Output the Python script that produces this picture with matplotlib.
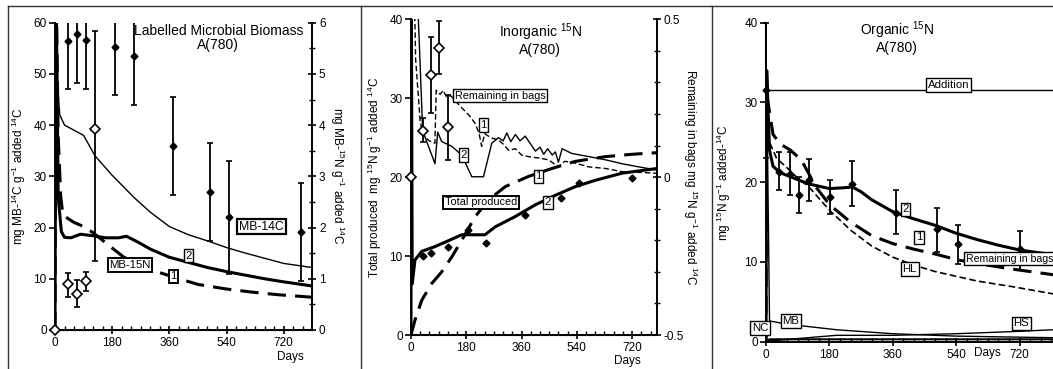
import numpy as np
import matplotlib
matplotlib.use("Agg")
import matplotlib.pyplot as plt
from matplotlib.lines import Line2D
from matplotlib.ticker import MultipleLocator

plt.rcParams['font.family'] = ['Liberation Sans', 'DejaVu Sans']
plt.rcParams['font.size'] = 8.5
plt.rcParams['mathtext.default'] = 'regular'

# ---------- panel 1: labelled microbial biomass ----------
mb14c_days = [0, 3, 8, 15, 30, 60, 90, 126, 180, 250, 300, 360, 420, 480, 540, 600, 660, 720, 809]
mb14c_line = [0, 75, 48, 42, 40, 39, 38, 34.0, 30.2, 25.8, 23, 20.2, 18.6, 17.4, 16.1, 15, 14, 13, 12.2]

mb15n_2_days = [0, 3, 10, 20, 30, 50, 80, 120, 160, 200, 225, 260, 300, 360, 420, 480, 540, 600, 660, 720, 809]
mb15n_2 = [0, 7, 2.6, 1.92, 1.81, 1.8, 1.87, 1.84, 1.8, 1.8, 1.83, 1.72, 1.58, 1.42, 1.32, 1.22, 1.14, 1.07, 1.0, 0.94, 0.86]
mb15n_1_days = [0, 3, 10, 18, 25, 40, 60, 90, 120, 150, 180, 215, 260, 320, 380, 450, 540, 620, 700, 809]
mb15n_1 = [0, 7, 3.8, 2.6, 2.25, 2.18, 2.1, 2.02, 1.9, 1.75, 1.6, 1.43, 1.28, 1.14, 1.02, 0.89, 0.8, 0.74, 0.69, 0.64]

mb14c_obs_days = [42, 70, 98, 189, 249, 370, 489, 549, 773]
mb14c_obs = [56.5, 57.8, 56.7, 55.2, 53.5, 36.0, 27.0, 22.0, 19.2]
mb14c_obs_lo = [47.0, 48.2, 47.0, 45.8, 44.0, 26.3, 17.3, 11.0, 9.5]
mb14c_obs_hi = [66.0, 67.4, 66.4, 64.6, 63.0, 45.4, 36.5, 33.0, 28.7]

mb15n_obs_days = [0, 42, 70, 98, 126]
mb15n_obs = [0.0, 0.90, 0.71, 0.95, 3.93]
mb15n_obs_lo = [0.0, 0.65, 0.45, 0.76, 1.35]
mb15n_obs_hi = [0.0, 1.12, 0.98, 1.13, 5.83]

# ---------- panel 2: inorganic 15N ----------
total2_days = [0, 1, 4, 13, 35, 78, 122, 165, 241, 274, 339, 405, 470, 535, 600, 687, 801]
total2 = [0, 45, 6.5, 9.5, 10.6, 11.2, 11.95, 12.7, 12.7, 13.7, 15, 16.5, 17.7, 18.8, 19.6, 20.5, 21.1]
total1_days = [0, 13, 35, 67, 100, 133, 165, 209, 252, 307, 383, 459, 535, 633, 720, 801]
total1 = [0, 1.9, 4.4, 6.5, 8.0, 9.9, 12.0, 15.0, 17.1, 18.8, 20.1, 21.1, 22.0, 22.6, 22.9, 23.1]

total_obs_days = [40, 65, 122, 184, 245, 370, 488, 548, 718]
total_obs = [10.0, 10.35, 11.2, 13.3, 11.6, 15.2, 17.3, 19.3, 19.85]

rem2_days = [0, 2, 24, 38, 78, 87, 100, 133, 165, 198, 236, 263, 285, 300, 312, 325, 340, 355, 372,
             405, 420, 432, 445, 460, 470, 480, 492, 524, 579, 633, 687, 742, 801]
rem2 = [0, 1.0, 0.5, 0.1475, 0.0425, 0.1425, 0.1125, 0.0975, 0.07, 0.00125, 0.00125, 0.1075, 0.125,
        0.115, 0.14, 0.1125, 0.135, 0.115, 0.13, 0.0825, 0.095, 0.0725, 0.09, 0.07, 0.08, 0.0475,
        0.09, 0.075, 0.065, 0.055, 0.0425, 0.0325, 0.0225]
rem1_days = [0, 3, 15, 30, 40, 60, 78, 82, 95, 105, 115, 130, 160, 190, 209, 222, 230, 240, 260, 285,
             300, 318, 340, 360, 383, 420, 448, 480, 500, 524, 579, 633, 687, 801]
rem1 = [0, 1.0, 0.375, 0.175, 0.13, 0.115, 0.1075, 0.275, 0.2625, 0.275, 0.255, 0.2575, 0.225, 0.195,
        0.17, 0.1375, 0.0975, 0.1375, 0.125, 0.1175, 0.105, 0.085, 0.09, 0.07, 0.065, 0.06, 0.055,
        0.0325, 0.05, 0.0475, 0.0325, 0.0275, 0.0175, 0.0125]

rem_obs_days = [0, 38, 65, 92, 122]
rem_obs = [0.0, 0.145, 0.3225, 0.41, 0.1575]
rem_obs_lo = [0.0, 0.11, 0.2025, 0.3275, 0.055]
rem_obs_hi = [0.0, 0.186, 0.4425, 0.495, 0.26]

# ---------- panel 3: organic 15N ----------
addition = 31.5
org2_days = [0, 2, 10, 20, 40, 80, 120, 180, 220, 245, 270, 300, 360, 420, 480, 540, 600, 660, 720, 815]
org2 = [0, 34, 24, 22, 21.2, 20.5, 19.8, 19.2, 19.3, 19.4, 18.8, 17.8, 16.3, 15.4, 14.6, 13.6, 12.8, 12.1, 11.5, 10.9]
org1_days = [0, 2, 20, 40, 70, 100, 120, 140, 180, 240, 300, 360, 420, 480, 540, 600, 700, 815]
org1 = [0, 31, 26, 24.8, 24, 22.8, 21.2, 19.5, 17.2, 15, 13.3, 12.3, 11.6, 11, 10.3, 9.8, 9.1, 8.4]
hl_days = [0, 2, 10, 30, 60, 90, 120, 180, 240, 300, 360, 420, 480, 540, 600, 700, 815]
hl = [0, 30, 25, 23, 21.8, 20.5, 19.5, 16.5, 14, 12, 10.6, 9.6, 8.8, 8.2, 7.6, 6.9, 6.0]
mb_days = [0, 2, 10, 60, 200, 360, 540, 815]
mb = [0, 33, 2.6, 2.2, 1.5, 1.0, 0.7, 0.5]
hs_days = [0, 10, 200, 360, 540, 720, 815]
hs = [0, 0.1, 0.8, 0.8, 1.0, 1.3, 1.5]
nc_days = [0, 10, 815]
nc = [0, 0.3, 0.3]

org_obs_days = [0, 38, 68, 93, 122, 182, 244, 369, 486, 546, 720]
org_obs = [31.5, 21.3, 21.0, 18.4, 20.3, 18.1, 19.8, 16.2, 14.1, 12.2, 11.6]
org_obs_lo = [23.0, 19.0, 18.4, 16.2, 17.7, 16.0, 17.0, 13.5, 11.3, 9.7, 9.0]
org_obs_hi = [40.0, 23.8, 23.8, 20.6, 22.9, 20.3, 22.7, 19.0, 16.8, 14.6, 13.9]

W, H = 1053, 369
fig = plt.figure(figsize=(W / 100, H / 100), dpi=100)


def px_axes(left, right, top, bottom):
    return fig.add_axes([left / W, (H - bottom) / H, (right - left) / W, (bottom - top) / H])


def style_axes(ax, right=False):
    ax.spines['top'].set_visible(False)
    ax.spines['right'].set_visible(right)
    for s in ax.spines.values():
        s.set_linewidth(1.4)
    ax.xaxis.set_major_locator(MultipleLocator(180))
    ax.xaxis.set_minor_locator(MultipleLocator(30))
    ax.tick_params(axis='x', which='major', direction='inout', length=6, width=1.2, pad=2)
    ax.tick_params(axis='x', which='minor', direction='in', length=3, width=1)
    ax.tick_params(axis='y', which='major', direction='out', length=4, width=1.2, pad=2)
    ax.patch.set_alpha(0)


def box(ax, x, y, s, ha='center', lw=1.0, size=8.2):
    ax.text(x, y, s, fontsize=size, ha=ha, va='center', zorder=10,
            bbox=dict(boxstyle='square,pad=0.15', fc='white', ec='black', lw=lw))


def errs(vals, lo, hi):
    v = np.array(vals)
    return [v - np.array(lo), np.array(hi) - v]


thick_dash = (0, (6, 3))
thin_dash = (0, (4, 2))

# ---- panel 1
ax1 = px_axes(55, 312, 22.7, 330)
style_axes(ax1)
ax1.set_xlim(0, 809)
ax1.set_ylim(0, 60)
ax1.yaxis.set_major_locator(MultipleLocator(10))
ax1.plot(mb14c_days, mb14c_line, color='black', lw=1.0)
ax1.errorbar(mb14c_obs_days, mb14c_obs, yerr=errs(mb14c_obs, mb14c_obs_lo, mb14c_obs_hi),
             fmt='D', ms=3.5, color='black', ecolor='black', elinewidth=1.3, capsize=2.5, capthick=1.2)
ax1.set_ylabel('mg MB-$^{14}$C g$^{-1}$ added $^{14}$C', labelpad=4)
ax1.text(740, -5.3, 'Days', ha='center', va='center')

ax1r = ax1.twinx()
ax1r.set_ylim(0, 6)
ax1r.spines['top'].set_visible(False)
ax1r.spines['left'].set_visible(False)
ax1r.spines['right'].set_linewidth(1.4)
ax1r.yaxis.set_major_locator(MultipleLocator(1))
ax1r.yaxis.set_minor_locator(MultipleLocator(0.5))
ax1r.tick_params(axis='y', which='major', direction='inout', length=6, width=1.2, pad=2)
ax1r.tick_params(axis='y', which='minor', direction='inout', length=4, width=1)
ax1r.plot(mb15n_2_days, mb15n_2, color='black', lw=2.2)
ax1r.plot(mb15n_1_days, mb15n_1, color='black', lw=2.2, linestyle=thick_dash)
ax1r.errorbar(mb15n_obs_days, mb15n_obs, yerr=errs(mb15n_obs, mb15n_obs_lo, mb15n_obs_hi),
              fmt='D', ms=5, mfc='white', mec='black', mew=1.2, ecolor='black',
              elinewidth=1.3, capsize=2.5, capthick=1.2, clip_on=False, zorder=5)
ax1r.set_ylabel('mg MB-$^{15}$N g$^{-1}$ added $^{14}$C', rotation=270, labelpad=15)
ax1r.text(514, 5.97, 'Labelled Microbial Biomass\nA(780)', ha='center', va='top',
          fontsize=10, linespacing=1.0)
box(ax1r, 650, 2.02, 'MB-14C', lw=1.6, size=8.8)
box(ax1r, 420, 1.45, '2')
box(ax1r, 236, 1.27, 'MB-15N', lw=1.4)
box(ax1r, 373, 1.05, '1', lw=1.4)

# ---- panel 2
ax2 = px_axes(411, 657, 19.3, 335)
style_axes(ax2)
ax2.set_xlim(0, 801)
ax2.set_ylim(0, 40)
ax2.yaxis.set_major_locator(MultipleLocator(10))
ax2.plot(total2_days, total2, color='black', lw=2.2)
ax2.plot(total1_days, total1, color='black', lw=2.2, linestyle=thick_dash)
ax2.plot(total_obs_days, total_obs, 'D', ms=3.5, color='black')
ax2.set_ylabel('Total produced  mg $^{15}$N g$^{-1}$ added $^{14}$C', labelpad=4)
ax2.text(704, -3.35, 'Days', ha='center', va='center')
ax2.text(421, 39.7, 'Inorganic $^{15}$N\nA(780)', ha='center', va='top', fontsize=10, linespacing=1.0)

ax2r = ax2.twinx()
ax2r.set_ylim(-0.5, 0.5)
ax2r.spines['top'].set_visible(False)
ax2r.spines['left'].set_visible(False)
ax2r.spines['right'].set_linewidth(1.4)
ax2r.yaxis.set_major_locator(MultipleLocator(0.5))
ax2r.yaxis.set_minor_locator(MultipleLocator(0.1))
ax2r.yaxis.set_major_formatter(plt.FuncFormatter(lambda v, p: '0' if abs(v) < 1e-9 else f'{v:g}'))
ax2r.tick_params(axis='y', which='major', direction='inout', length=6, width=1.2, pad=2)
ax2r.tick_params(axis='y', which='minor', direction='inout', length=4, width=1)
ax2r.plot(rem2_days, rem2, color='black', lw=1.0)
ax2r.plot(rem1_days, rem1, color='black', lw=1.0, linestyle=thin_dash)
ax2r.errorbar(rem_obs_days, rem_obs, yerr=errs(rem_obs, rem_obs_lo, rem_obs_hi),
              fmt='D', ms=5, mfc='white', mec='black', mew=1.2, ecolor='black',
              elinewidth=1.3, capsize=2.5, capthick=1.2, clip_on=False, zorder=5)
ax2r.set_ylabel('Remaining in bags mg $^{15}$N g$^{-1}$ added $^{14}$C', rotation=270, labelpad=11)
box(ax2r, 143, 0.2575, 'Remaining in bags', ha='left', size=7.8)
box(ax2r, 236, 0.165, '1')
box(ax2r, 171, 0.07, '2')
box(ax2r, 415, 0.0025, '1')
box(ax2r, 111, -0.08, 'Total produced', ha='left', lw=1.4, size=7.8)
box(ax2r, 446, -0.08, '2')

# ---- panel 3
ax3 = px_axes(766, 1053, 22.7, 341.7)
style_axes(ax3)
ax3.set_xlim(0, 815)
ax3.set_ylim(0, 40)
ax3.yaxis.set_major_locator(MultipleLocator(10))
ax3.axhline(addition, color='black', lw=1.0)
ax3.plot(org2_days, org2, color='black', lw=2.2)
ax3.plot(org1_days, org1, color='black', lw=2.2, linestyle=thick_dash)
ax3.plot(hl_days, hl, color='black', lw=1.2, linestyle=thin_dash)
ax3.plot(mb_days, mb, color='black', lw=1.0)
ax3.plot(hs_days, hs, color='black', lw=1.0)
ax3.plot(nc_days, nc, color='black', lw=1.5)
ax3.errorbar(org_obs_days, org_obs, yerr=errs(org_obs, org_obs_lo, org_obs_hi),
             fmt='D', ms=3.5, color='black', ecolor='black', elinewidth=1.3, capsize=2.5, capthick=1.2,
             clip_on=False)
ax3.set_ylabel('mg $^{15}$N g$^{-1}$ added-$^{14}$C', labelpad=8)
ax3.text(628, -1.45, 'Days', ha='center', va='center')
ax3.text(372, 40.4, 'Organic $^{15}$N\nA(780)', ha='center', va='top', fontsize=10, linespacing=1.0)
box(ax3, 519, 32.2, 'Addition')
box(ax3, 396, 16.6, '2')
box(ax3, 434, 13.1, '1')
box(ax3, 408, 9.1, 'HL')
box(ax3, 568, 10.4, 'Remaining in bags', ha='left', size=7.6)
box(ax3, 71, 2.6, 'MB')
box(ax3, -16, 1.7, 'NC')
box(ax3, 725, 2.3, 'HS')

# panel frames
frame = dict(transform=fig.transFigure, color='#333333', lw=1.0)
top = 1 - 6 / H
fig.add_artist(Line2D([8 / W, 1], [top, top], **frame))
for xp in (8, 361, 712):
    fig.add_artist(Line2D([xp / W, xp / W], [0, top], **frame))

fig.savefig('out.png', dpi=100)
